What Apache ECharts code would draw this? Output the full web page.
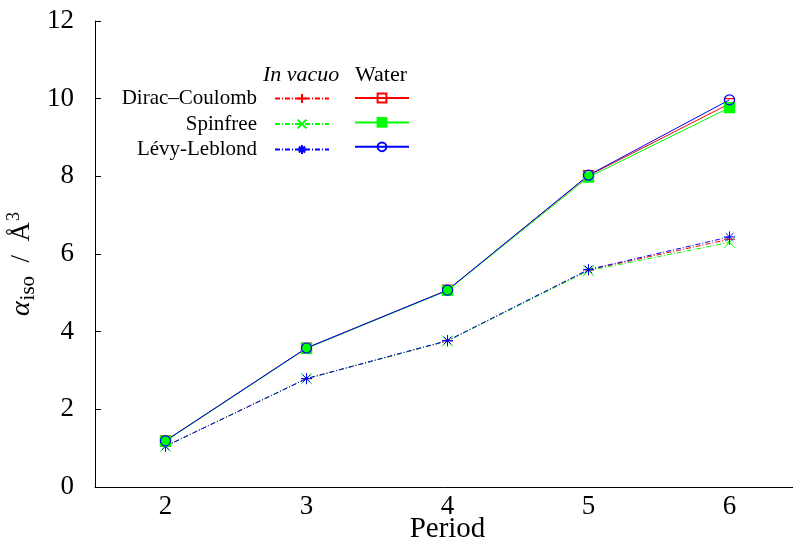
<!DOCTYPE html>
<html>
<head>
<meta charset="utf-8">
<script src="https://cdn.jsdelivr.net/npm/echarts@6/dist/echarts.min.js"></script>
<style>
  html, body { margin: 0; padding: 0; background: #fff; }
  #main { width: 793px; height: 545px; }
</style>
</head>
<body>
<div id="main"></div>
<script>
  const periods = ["2", "3", "4", "5", "6"];
  const yTicks = [0, 2, 4, 6, 8, 10, 12];

  // in vacuo
  const dcVacuo = [1.05, 2.79, 3.76, 5.59, 6.38];
  const sfVacuo = [1.05, 2.79, 3.76, 5.57, 6.3];
  const llVacuo = [1.05, 2.79, 3.77, 5.6, 6.44];
  // water
  const dcWater = [1.19, 3.58, 5.07, 8.02, 9.87];
  const sfWater = [1.18, 3.57, 5.06, 7.98, 9.77];
  const llWater = [1.19, 3.58, 5.07, 8.03, 9.97];

  const font = "Liberation Serif";
  const RED = "#ff0000", GREEN = "#00ff00", BLUE = "#0000ff";
  const dashDot = [5, 2, 1, 2];

  const plus = "path://M5,0L5,10M0,5L10,5";
  const cross = "path://M0,0L10,10M0,10L10,0";
  const star = "path://M5,0L5,10M0,5L10,5M1.5,1.5L8.5,8.5M1.5,8.5L8.5,1.5";

  const vacuoSeries = (name, data, color, symbol) => ({
    name: name,
    type: "line",
    data: data,
    symbol: symbol,
    symbolSize: 11,
    lineStyle: { color: color, width: 1, type: dashDot },
    itemStyle: { color: color, borderColor: color, borderWidth: 1 },
    emphasis: { disabled: true },
    animation: false,
  });

  const waterSeries = (name, data, color, symbol, fill) => ({
    name: name,
    type: "line",
    data: data,
    symbol: symbol,
    symbolSize: 10,
    lineStyle: { color: color, width: 1 },
    itemStyle: { color: fill, borderColor: color, borderWidth: 1.2 },
    emphasis: { disabled: true },
    animation: false,
  });

  const myChart = echarts.init(document.getElementById("main"));

  const option = {
    backgroundColor: "#fff",
    textStyle: { fontFamily: font, color: "#000" },
    grid: { left: 95, top: 21, width: 705, bottom: 58, containLabel: false, outerBoundsMode: "none" },
    xAxis: {
      type: "category",
      data: periods,
      boundaryGap: true,
      name: "Period",
      nameLocation: "middle",
      nameGap: 28,
      nameMoveOverlap: false,
      nameTextStyle: { fontFamily: font, fontSize: 29, color: "#000" },
      axisLine: { lineStyle: { color: "#000", width: 1 } },
      axisTick: { inside: true, alignWithLabel: true, length: 6, lineStyle: { color: "#000" } },
      axisLabel: { fontFamily: font, fontSize: 27, color: "#000", margin: 6 },
      splitLine: { show: false },
    },
    yAxis: {
      type: "value",
      min: yTicks[0],
      max: yTicks[yTicks.length - 1],
      interval: 2,
      name: "{a|α}{s|iso}{n|\u2002/\u2002Å}{p|3}",
      nameLocation: "middle",
      nameRotate: 90,
      nameGap: 56,
      nameMoveOverlap: false,
      nameTextStyle: {
        fontFamily: font,
        color: "#000",
        rich: {
          a: { fontFamily: font, fontSize: 28, fontStyle: "italic", color: "#000" },
          s: { fontFamily: font, fontSize: 21, color: "#000", padding: [13, 0, 0, 1] },
          n: { fontFamily: font, fontSize: 27, color: "#000" },
          p: { fontFamily: font, fontSize: 18, color: "#000", padding: [0, 20, 15, 1] },
        },
      },
      axisLine: { show: true, lineStyle: { color: "#000", width: 1 } },
      axisTick: { show: true, inside: true, length: 6, lineStyle: { color: "#000" } },
      axisLabel: { fontFamily: font, fontSize: 27, color: "#000", margin: 21 },
      splitLine: { show: false },
    },
    legend: [
      {
        orient: "vertical",
        align: "right",
        right: 793 - 330,
        top: 88,
        padding: 0,
        itemWidth: 54,
        itemHeight: 11,
        itemGap: 4.5,
        textStyle: { fontFamily: font, fontSize: 21, lineHeight: 20, color: "#000", padding: [0, 13, 0, 0] },
        data: ["Dirac–Coulomb", "Spinfree", "Lévy-Leblond"],
        selectedMode: false,
      },
      {
        orient: "vertical",
        align: "left",
        left: 354,
        top: 92.5,
        padding: 0,
        itemWidth: 54,
        itemHeight: 11,
        itemGap: 13.5,
        formatter: () => "",
        data: ["DC water", "SF water", "LL water"],
        selectedMode: false,
      },
    ],
    graphic: [
      {
        type: "text",
        left: 263,
        top: 64,
        style: { text: "In vacuo", font: "italic 22px 'Liberation Serif'", fill: "#000" },
      },
      {
        type: "text",
        left: 355,
        top: 64,
        style: { text: "Water", font: "22px 'Liberation Serif'", fill: "#000" },
      },
    ],
    series: [
      vacuoSeries("Dirac–Coulomb", dcVacuo, RED, plus),
      vacuoSeries("Spinfree", sfVacuo, GREEN, cross),
      vacuoSeries("Lévy-Leblond", llVacuo, BLUE, star),
      waterSeries("DC water", dcWater, RED, "rect", "rgba(0,0,0,0)"),
      waterSeries("SF water", sfWater, GREEN, "rect", GREEN),
      waterSeries("LL water", llWater, BLUE, "circle", "rgba(0,0,0,0)"),
    ],
  };

  option && myChart.setOption(option);
</script>
</body>
</html>
